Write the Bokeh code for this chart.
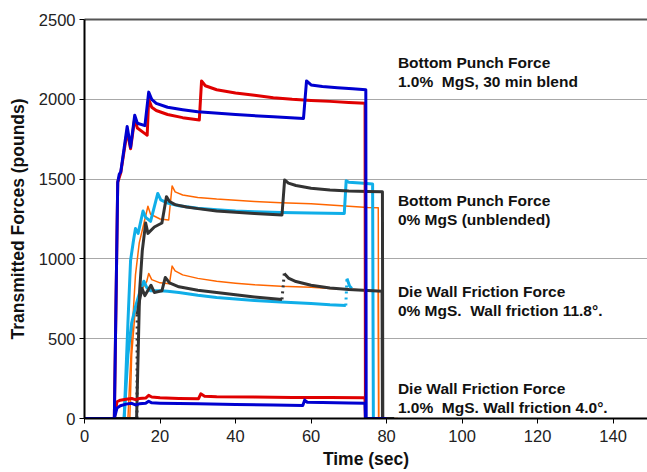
from bokeh.plotting import figure
from bokeh.models import Range1d, FixedTicker, LinearAxis, Label
from bokeh.embed import file_html
from bokeh.resources import INLINE

# ---------------- data (time in sec, force in pounds) ----------------
# Bottom punch force, 1.0% MgS, 30 min blend
bp10_blue_t = [0, 7.9, 8.8, 9.2, 9.6, 11.3, 12.2, 13.3, 14.0, 16.0, 17.0, 17.8, 19, 22, 26, 30, 40, 50,
               58.0, 58.8, 60, 63, 67, 71, 74.5, 74.6, 80]
bp10_blue_v = [0, 0, 1480, 1530, 1545, 1830, 1700, 1900, 1850, 1835, 2045, 2000, 1975, 1950, 1935, 1922, 1905, 1890,
               1880, 2115, 2090, 2080, 2072, 2066, 2060, 0, 0]
bp10_red_t = [0, 7.9, 8.8, 9.6, 11.3, 12.2, 13.3, 14.0, 16.0, 16.6, 17.0, 17.8, 19, 22, 26, 30.4, 31.0, 32,
              35, 40, 45, 50, 55, 60, 65, 70, 74.3, 74.4, 80]
bp10_red_v = [0, 0, 1480, 1540, 1800, 1690, 1880, 1820, 1785, 1775, 2000, 1950, 1930, 1905, 1885, 1870, 2115, 2085,
              2060, 2040, 2025, 2010, 2000, 1993, 1987, 1980, 1975, 0, 0]

# Bottom punch force, 0% MgS (unblended)
bp0_black_t = [0, 13.8, 14.6, 15.3, 16.2, 16.8, 18.5, 20.5, 21.7, 22.5, 24, 27, 30, 35, 40, 45, 52.3, 53.0,
               54, 56, 60, 65, 70, 75, 78.9, 79.0, 82]
bp0_black_v = [0, 0, 800, 1050, 1225, 1160, 1200, 1225, 1390, 1360, 1340, 1325, 1315, 1300, 1292, 1285, 1275, 1495,
               1475, 1460, 1443, 1432, 1426, 1423, 1420, 0, 0]
bp0_cyan_t = [0, 10.5, 11.5, 12.2, 13.0, 13.5, 14.2, 15.5, 16.2, 17.5, 19.4, 20.2, 22, 25, 30, 35, 40, 45, 52,
              60, 68.8, 69.3, 70, 73, 76.3, 76.5, 82]
bp0_cyan_v = [0, 0, 600, 990, 1120, 1190, 1160, 1300, 1260, 1235, 1410, 1370, 1350, 1333, 1318, 1308, 1300, 1295, 1290,
              1287, 1285, 1490, 1480, 1475, 1470, 0, 0]
bp0_orange_t = [0, 11.5, 12.5, 13.5, 14.5, 15.5, 16.8, 17.5, 20, 22.3, 23.2, 24, 26, 30, 35, 40, 45, 52, 60,
                65, 70, 75, 77.8, 77.9, 83]
bp0_orange_v = [0, 0, 500, 900, 1100, 1200, 1330, 1280, 1250, 1244, 1457, 1420, 1400, 1385, 1375, 1368, 1360, 1352,
                1345, 1338, 1330, 1322, 1320, 0, 0]

# Die wall friction force, 0% MgS
dw0_orange_t = [0, 12.0, 12.5, 13.5, 15.0, 16.5, 17.0, 17.8, 20, 22.5, 23.2, 24, 26, 30, 35, 40, 45, 52, 60,
                65, 70, 75, 77.8, 77.9]
dw0_orange_v = [0, 0, 400, 700, 800, 860, 909, 870, 850, 845, 955, 925, 900, 878, 860, 848, 838, 828, 822,
                815, 810, 803, 800, 0]
dw0_black_t = [0, 13.9, 13.95, 14.4, 15.2, 16.0, 17.6, 18.5, 20.5, 21.4, 22.5, 25, 30, 35, 40, 45, 52.3, 52.9,
               54, 56, 60, 65, 70, 75, 78.8, 78.9]
dw0_black_v = [0, 0, 650, 720, 815, 770, 835, 790, 800, 884, 850, 825, 804, 790, 775, 762, 746, 909,
               880, 858, 835, 818, 808, 802, 798, 0]
dw0_black_dotted = [1, 16]
dw0_cyan_t = [0, 10.5, 11.5, 12.5, 13.5, 14.5, 15.7, 16.5, 17.5, 20, 22, 25, 30, 35, 40, 45, 52, 60, 65,
              69.2, 69.5, 70.2, 70.8]
dw0_cyan_v = [0, 0, 400, 600, 700, 780, 860, 820, 800, 800, 798, 790, 772, 758, 748, 740, 730, 720, 712,
              708, 877, 830, 815]
dw0_cyan_dotted = [19]

# Die wall friction force, 1.0% MgS
dw10_red_t = [0, 7.9, 8.6, 9.5, 11, 12.5, 13.5, 14.5, 16.2, 17.0, 17.8, 20, 25, 30.2, 30.8, 31.8, 35, 45, 55,
              65, 74.3, 74.4]
dw10_red_v = [0, 0, 105, 115, 120, 125, 118, 125, 128, 145, 135, 130, 126, 124, 155, 140, 136, 134, 132,
              131, 130, 0]
dw10_blue_t = [0, 7.9, 8.6, 9.5, 11, 12.5, 13.5, 14.5, 16.2, 17.0, 17.8, 20, 30, 40, 50, 57.8, 58.3, 59, 63,
               70, 74.3, 74.4]
dw10_blue_v = [0, 0, 65, 80, 90, 95, 85, 92, 95, 108, 98, 96, 92, 88, 85, 82, 115, 102, 100,
               97, 95, 0]

x_ticks = [0, 20, 40, 60, 80, 100, 120, 140]
y_ticks = [0, 500, 1000, 1500, 2000, 2500]

labels = [
    ("Bottom Punch Force", 2232), ("1.0%\u00a0 MgS, 30 min blend", 2112),
    ("Bottom Punch Force", 1363), ("0% MgS (unblended)", 1244),
    ("Die Wall Friction Force", 798), ("0% MgS.\u00a0 Wall friction 11.8°.", 678),
    ("Die Wall Friction Force", 188), ("1.0%\u00a0 MgS. Wall friction 4.0°.", 69),
]

# ---------------- figure ----------------
FONT = "Liberation Sans"
BLUE = "#0000D0"
RED = "#E00000"
BLACK = "#333333"
CYAN = "#10AEE8"
ORANGE = "#FF6600"

p = figure(width=647, height=472, output_backend="svg", toolbar_location=None,
           x_range=Range1d(0, 149.1), y_range=Range1d(0, 2500),
           min_border_left=84, min_border_right=0, min_border_top=19, min_border_bottom=54)
p.outline_line_color = None
p.background_fill_color = "white"
p.border_fill_color = "white"

p.xgrid.grid_line_color = None
p.ygrid.grid_line_color = "#A8A8A8"
p.ygrid.grid_line_width = 1
p.ygrid.ticker = FixedTicker(ticks=y_ticks)

for ax in (p.xaxis[0], p.yaxis[0]):
    ax.axis_line_color = "black"
    ax.axis_line_width = 2
    ax.major_tick_line_color = "black"
    ax.major_tick_line_width = 1
    ax.major_tick_out = 5
    ax.major_tick_in = 0
    ax.minor_tick_line_color = None
    ax.major_label_text_font = FONT
    ax.major_label_text_font_size = "16.5px"
    ax.major_label_text_color = "#222222"
    ax.axis_label_text_font = FONT
    ax.axis_label_text_font_style = "bold"
    ax.axis_label_text_font_size = "17.5px"
    ax.axis_label_text_color = "#111111"

p.xaxis.ticker = FixedTicker(ticks=x_ticks)
p.yaxis.ticker = FixedTicker(ticks=y_ticks)
p.xaxis.axis_label = "Time (sec)"
p.yaxis.axis_label = "Transmitted Forces (pounds)"
p.xaxis.major_label_standoff = 6
p.yaxis.major_label_standoff = 4
p.xaxis.axis_label_standoff = 4
p.yaxis.axis_label_standoff = 8

top = LinearAxis(ticker=FixedTicker(ticks=[]), axis_line_color="#555555", axis_line_width=2,
                 major_tick_line_color=None, minor_tick_line_color=None,
                 major_label_text_font_size="0px")
p.add_layout(top, "above")


def draw(t, v, color, width, dotted=()):
    start = 0
    for i in sorted(dotted):
        if i > start:
            p.line(t[start:i + 1], v[start:i + 1], line_color=color, line_width=width, line_join="round")
        p.line(t[i:i + 2], v[i:i + 2], line_color=color, line_width=width, line_dash="dotted")
        start = i + 1
    p.line(t[start:], v[start:], line_color=color, line_width=width, line_join="round")


draw(dw0_orange_t, dw0_orange_v, ORANGE, 1.5)
draw(bp0_orange_t, bp0_orange_v, ORANGE, 1.5)
draw(dw0_cyan_t, dw0_cyan_v, CYAN, 3, dw0_cyan_dotted)
draw(bp0_cyan_t, bp0_cyan_v, CYAN, 3)
draw(dw0_black_t, dw0_black_v, BLACK, 3, dw0_black_dotted)
draw(bp0_black_t, bp0_black_v, BLACK, 3)
draw(dw10_red_t, dw10_red_v, RED, 3)
draw(bp10_red_t, bp10_red_v, RED, 3)
draw(dw10_blue_t, dw10_blue_v, BLUE, 3)
draw(bp10_blue_t, bp10_blue_v, BLUE, 3)

for txt, yv in labels:
    p.add_layout(Label(x=83, y=yv, text=txt, text_font=FONT, text_font_style="bold",
                       text_font_size="15.5px", text_color="#111111", text_baseline="alphabetic"))

open("out.html", "w").write(file_html(p, INLINE))
